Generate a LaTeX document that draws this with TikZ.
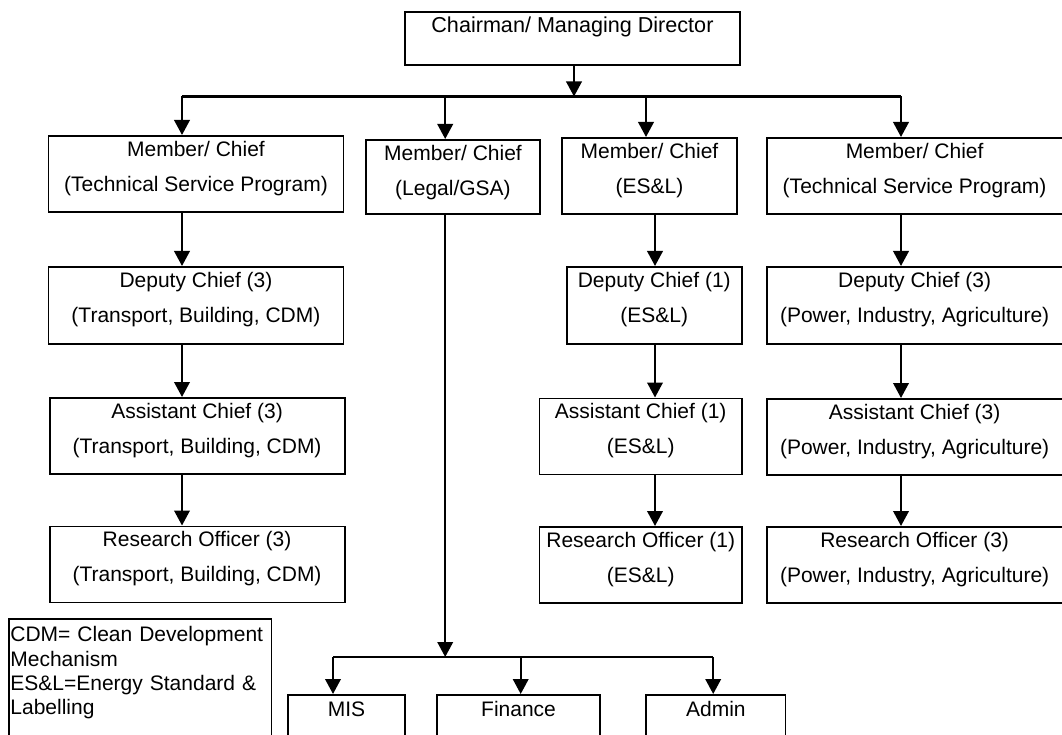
\documentclass[tikz,border=0pt]{standalone}
\usepackage{fontspec}
\setmainfont{Liberation Sans}
\usetikzlibrary{arrows.meta}
% two-line box text: fixed top strut, fixed line spacing, bottom strut of depth #3
\newcommand\duo[3]{\rule{0pt}{20.5pt}#1\\#2\rule[-#3pt]{0pt}{#3pt}}
% one-line box text with top strut #2 and bottom strut #3
\newcommand\uno[3]{\rule{0pt}{#2pt}#1\rule[-#3pt]{0pt}{#3pt}}
\begin{document}
\begin{tikzpicture}[x=1pt,y=-1pt,
  box/.style={draw, line width=1.9pt, inner xsep=0pt, inner ysep=0pt,
    anchor=north west, align=center,
    font=\fontsize{21pt}{35pt}\selectfont},
  link/.style={line width=2.2pt},
  arr/.style={link, -{Triangle[length=15pt,width=15.5pt]}}]

\useasboundingbox (0,0) rectangle (1062,735);
\clip (0,0) rectangle (1062,735);
\fill[white] (0,0) rectangle (1062,735);

% head
\node[box, minimum width=335.8pt, font=\fontsize{21.6pt}{35pt}\selectfont] (chair) at (403.6,11)
  {\uno{Chairman/ Managing Director}{21}{32}};

% members
\node[box, minimum width=295pt] (m1) at (47.5,135)
  {\duo{Member/ Chief}{(Technical Service Program)}{20.5}};
\node[box, minimum width=174pt] (m2) at (365,139)
  {\duo{Member/ Chief}{(Legal/GSA)}{18.5}};
\node[box, minimum width=175pt] (m3) at (561,137)
  {\duo{Member/ Chief}{(ES\&L)}{20.5}};
\node[box, minimum width=295.7pt] (m4) at (765.8,137)
  {\duo{Member/ Chief}{(Technical Service Program)}{20.5}};

% deputy chiefs
\node[box, minimum width=295pt] (d1) at (47.5,266)
  {\duo{Deputy Chief (3)}{(Transport, Building, CDM)}{21.5}};
\node[box, minimum width=175.4pt] (d3) at (565.6,266)
  {\duo{Deputy Chief (1)}{(ES\&L)}{21.5}};
\node[box, minimum width=295.7pt] (d4) at (765.8,266)
  {\duo{Deputy Chief (3)}{(Power, Industry, Agriculture)}{21.5}};

% assistant chiefs
\node[box, minimum width=295pt] (a1) at (48.6,397)
  {\duo{Assistant Chief (3)}{(Transport, Building, CDM)}{20.5}};
\node[box, minimum width=202.5pt] (a3) at (538.5,397.5)
  {\duo{Assistant Chief (1)}{(ES\&L)}{20.5}};
\node[box, minimum width=295.7pt] (a4) at (765.8,398)
  {\duo{Assistant Chief (3)}{(Power, Industry, Agriculture)}{20.5}};

% research officers
\node[box, minimum width=295pt] (r1) at (48.6,525.5)
  {\duo{Research Officer (3)}{(Transport, Building, CDM)}{20.5}};
\node[box, minimum width=202.5pt] (r3) at (538.5,526)
  {\duo{Research Officer (1)}{(ES\&L)}{20.2}};
\node[box, minimum width=295.7pt] (r4) at (765.8,526)
  {\duo{Research Officer (3)}{(Power, Industry, Agriculture)}{20.2}};

% support units
\node[box, minimum width=116.8pt] (mis) at (287.2,694) {\uno{MIS}{21.3}{40}};
\node[box, minimum width=162.6pt] (fin) at (436.3,694) {\uno{Finance}{21.3}{40}};
\node[box, minimum width=139.1pt] (adm) at (645.4,694) {\uno{Admin}{21.3}{40}};

% abbreviations
\node[box, line width=1.6pt, align=left, text width=259.8pt, inner xsep=1.3pt,
  font=\fontsize{21pt}{24.2pt}\selectfont] (note) at (8.3,618)
  {\rule{0pt}{23pt}CDM= Clean Development\\Mechanism\\ES\&L=Energy Standard \&\\Labelling\rule[-46pt]{0pt}{46pt}};

% junctions
\coordinate (top) at (574,96.5);
\coordinate (busA) at (182,96.5);
\coordinate (busB) at (445.2,96.5);
\coordinate (busC) at (646,96.5);
\coordinate (busD) at (901,96.5);
\coordinate (colC) at (655,300);
\coordinate (low) at (445.2,657);
\coordinate (lowA) at (333,657);
\coordinate (lowB) at (520.7,657);
\coordinate (lowC) at (713.2,657);

% head to members
\draw[arr] (chair.south -| top) -- (top);
\draw[link] (busA) -- (busD);
\draw[arr] (busA) -- (busA |- m1.north);
\draw[arr] (busB) -- (busB |- m2.north);
\draw[arr] (busC) -- (busC |- m3.north);
\draw[arr] (busD) -- (busD |- m4.north);

% technical service chain (left)
\draw[arr] (m1.south -| busA) -- (d1.north -| busA);
\draw[arr] (d1.south -| busA) -- (a1.north -| busA);
\draw[arr] (a1.south -| busA) -- (r1.north -| busA);

% ES&L chain
\draw[arr] (m3.south -| colC) -- (d3.north -| colC);
\draw[arr] (d3.south -| colC) -- (a3.north -| colC);
\draw[arr] (a3.south -| colC) -- (r3.north -| colC);

% technical service chain (right)
\draw[arr] (m4.south -| busD) -- (d4.north -| busD);
\draw[arr] (d4.south -| busD) -- (a4.north -| busD);
\draw[arr] (a4.south -| busD) -- (r4.north -| busD);

% legal / GSA to support units
\draw[arr] (m2.south -| low) -- (low);
\draw[link] (lowA) -- (lowC);
\draw[arr] (lowA) -- (lowA |- mis.north);
\draw[arr] (lowB) -- (lowB |- fin.north);
\draw[arr] (lowC) -- (lowC |- adm.north);
\end{tikzpicture}
\end{document}
